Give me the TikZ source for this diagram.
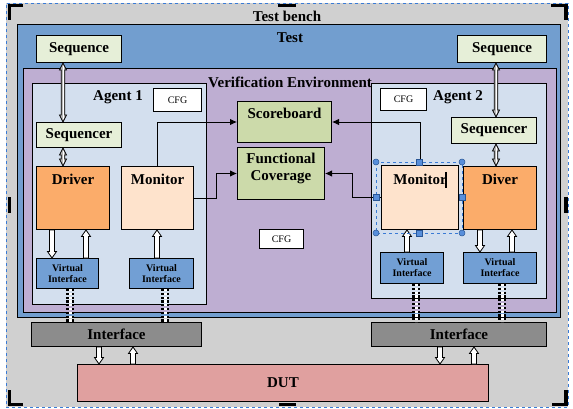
\documentclass[tikz,border=0pt]{standalone}
\usepackage{fontspec}
\setmainfont{Liberation Serif}
\usetikzlibrary{arrows.meta,calc}
\definecolor{bggray}{HTML}{D0D0D0}
\definecolor{testblue}{HTML}{729ECF}
\definecolor{verpurple}{HTML}{BEAED2}
\definecolor{agentblue}{HTML}{D3DFEE}
\definecolor{seqgreen}{HTML}{E6EFD8}
\definecolor{sbgreen}{HTML}{CCDAAA}
\definecolor{drvorange}{HTML}{FBAC6A}
\definecolor{monpeach}{HTML}{FEE3CC}
\definecolor{viblue}{HTML}{729FD4}
\definecolor{ifgray}{HTML}{8C8C8C}
\definecolor{dutpink}{HTML}{E0A09F}
\definecolor{selblue}{HTML}{3A7BD5}
\newcommand\labfont{\fontsize{15}{17}\selectfont\bfseries}
\newcommand\vifont{\fontsize{10}{11}\selectfont\bfseries}
\newcommand\cfgfont{\fontsize{10}{12}\selectfont}
% block arrow pointing down (head at #3)
\newcommand\downarr[3]{%
  \draw[blockarr] let \p1=(#2), \p2=(#3) in
    (#1pt-2.5pt,\y1) -- (#1pt-2.5pt,\y2+6.5pt) -- (#1pt-4.5pt,\y2+6.5pt) -- (#1pt,\y2)
    -- (#1pt+4.5pt,\y2+6.5pt) -- (#1pt+2.5pt,\y2+6.5pt) -- (#1pt+2.5pt,\y1) -- cycle;}
% block arrow pointing up (head at #3)
\newcommand\uparr[3]{%
  \draw[blockarr] let \p1=(#2), \p2=(#3) in
    (#1pt-2.5pt,\y1) -- (#1pt-2.5pt,\y2-6.5pt) -- (#1pt-4.5pt,\y2-6.5pt) -- (#1pt,\y2)
    -- (#1pt+4.5pt,\y2-6.5pt) -- (#1pt+2.5pt,\y2-6.5pt) -- (#1pt+2.5pt,\y1) -- cycle;}
% narrow double-headed arrow, #2 above #3
\newcommand\dblarr[3]{%
  \draw[dblarrow] let \p1=(#2), \p2=(#3) in
    (#1pt,\y1) -- (#1pt+3.5pt,\y1-7pt) -- (#1pt+1.8pt,\y1-7pt) -- (#1pt+1.8pt,\y2+7pt)
    -- (#1pt+3.5pt,\y2+7pt) -- (#1pt,\y2) -- (#1pt-3.5pt,\y2+7pt) -- (#1pt-1.8pt,\y2+7pt)
    -- (#1pt-1.8pt,\y1-7pt) -- (#1pt-3.5pt,\y1-7pt) -- cycle;
  \draw[white, line width=0.6pt] let \p1=(#2), \p2=(#3) in (#1pt,\y1-3pt) -- (#1pt,\y2+3pt);}
% dotted band connector
\newcommand\dotconn[3]{%
  \draw[dotband] let \p1=(#2), \p2=(#3) in (#1pt,\y1) -- (#1pt,\y2);}
\begin{document}
\begin{tikzpicture}[x=1pt,y=-1pt,
  box/.style={draw=black, line width=1pt, rectangle, inner sep=0pt, anchor=north west},
  blockarr/.style={draw=black, fill=white, line width=0.8pt, line join=miter},
  dblarrow/.style={draw=black, fill=gray!55, line width=0.7pt, line join=miter},
  dotband/.style={draw=black, double=white, double distance=3pt, line width=2.3pt, dash pattern=on 2.2pt off 1.6pt},
  conn/.style={draw=black, line width=0.9pt, -{Latex[length=7pt,width=6.5pt]}},
  title/.style={font=\labfont, inner sep=0pt},
  crop/.style={line width=3.5pt, black}]
\useasboundingbox (0,0) rectangle (573,409);
% test bench frame
\node[draw=selblue, dashed, line width=0.8pt, fill=bggray, rectangle, inner sep=0pt, anchor=north west,
  minimum width=562pt, minimum height=404pt] (tb) at (6,3) {};
\node[box, fill=testblue, minimum width=543pt, minimum height=293pt] (test) at (17,24) {};
\node[box, fill=verpurple, minimum width=533pt, minimum height=244pt] (ver) at (23,68) {};
\node[box, fill=agentblue, minimum width=174pt, minimum height=221pt] (ag1) at (32,83) {};
\node[box, fill=agentblue, minimum width=175pt, minimum height=215pt] (ag2) at (371,83) {};
% titles
\node[title] (tbt) at (287,16) {Test bench};
\node[title] (testt) at (290,38) {Test};
\node[title] (vert) at (290,82) {Verification Environment};
\node[title] (ag1t) at (118,97) {Agent 1};
\node[title] (ag2t) at (458,97) {Agent 2};
% boxes
\node[box, fill=seqgreen, minimum width=85pt, minimum height=27pt, font=\labfont] (seq1) at (36,35) {Sequence};
\node[box, fill=seqgreen, minimum width=89pt, minimum height=27pt, font=\labfont] (seq2) at (457,35) {Sequence};
\node[box, fill=seqgreen, minimum width=85pt, minimum height=25pt, font=\labfont] (sqr1) at (36,122) {Sequencer};
\node[box, fill=seqgreen, minimum width=85pt, minimum height=26pt, font=\labfont] (sqr2) at (451,117) {Sequencer};
\node[box, fill=white, minimum width=48pt, minimum height=23pt, font=\cfgfont] (cfg1) at (153,88) {CFG};
\node[box, fill=white, minimum width=46pt, minimum height=22pt, font=\cfgfont] (cfg2) at (380,88) {CFG};
\node[box, fill=white, minimum width=44pt, minimum height=19pt, font=\cfgfont] (cfg3) at (259,229) {CFG};
\node[box, fill=sbgreen, minimum width=94pt, minimum height=41pt,
  label={[font=\labfont, anchor=center, yshift=-12pt]north:Scoreboard}] (sb) at (237,101) {};
\node[box, fill=sbgreen, minimum width=87pt, minimum height=52pt,
  label={[font=\labfont, align=center, anchor=center, yshift=-21.5pt]north:Functional\\Coverage}] (fc) at (237,147) {};
\node[box, fill=drvorange, minimum width=73pt, minimum height=63pt,
  label={[font=\labfont, anchor=center, yshift=-13pt]north:Driver}] (drv) at (36,166) {};
\node[box, fill=monpeach, minimum width=72pt, minimum height=63pt,
  label={[font=\labfont, anchor=center, yshift=-13pt]north:Monitor}] (mon1) at (121,166) {};
\node[box, fill=monpeach, minimum width=77pt, minimum height=64pt,
  label={[font=\labfont, anchor=center, yshift=-14pt]north:Monitor}] (mon2) at (381,165) {};
\node[box, fill=drvorange, minimum width=73pt, minimum height=63pt,
  label={[font=\labfont, anchor=center, yshift=-13pt]north:Diver}] (div) at (463,166) {};
\node[box, fill=viblue, minimum width=62pt, minimum height=30pt, font=\vifont, align=center] (vi1) at (36,258) {Virtual\\Interface};
\node[box, fill=viblue, minimum width=64pt, minimum height=30pt, font=\vifont, align=center] (vi2) at (129,258) {Virtual\\Interface};
\node[box, fill=viblue, minimum width=63pt, minimum height=31pt, font=\vifont, align=center] (vi3) at (380,252) {Virtual\\Interface};
\node[box, fill=viblue, minimum width=73pt, minimum height=31pt, font=\vifont, align=center] (vi4) at (463,252) {Virtual\\Interface};
\node[box, fill=ifgray, minimum width=170pt, minimum height=24pt, font=\labfont] (if1) at (31,322) {Interface};
\node[box, fill=ifgray, minimum width=175pt, minimum height=24pt, font=\labfont] (if2) at (371,322) {Interface};
\node[box, fill=dutpink, minimum width=411pt, minimum height=37pt, font=\labfont] (dut) at (77,364) {DUT};
% monitor connectors
\draw[conn] (mon1.north) |- (sb.west);
\draw[conn] (mon1.east) -- ++(22,0) |- (fc.west);
\draw[conn] (mon2.north) |- (sb.east);
\draw[conn] (mon2.west) -- ++(-29,0) |- (fc.east);
% sequence arrows
\dblarr{63}{seq1.south}{sqr1.north}
\dblarr{63}{sqr1.south}{drv.north}
\dblarr{496}{seq2.south}{sqr2.north}
\dblarr{496}{sqr2.south}{div.north}
% block arrows
\downarr{52}{drv.south}{vi1.north}
\uparr{86}{vi1.north}{drv.south}
\uparr{157}{vi2.north}{mon1.south}
\uparr{407}{vi3.north}{mon2.south}
\downarr{480}{div.south}{vi4.north}
\uparr{512}{vi4.north}{div.south}
\downarr{99}{if1.south}{dut.north}
\uparr{133}{dut.north}{if1.south}
\downarr{440}{if2.south}{dut.north}
\uparr{474}{dut.north}{if2.south}
% dotted links
\dotconn{70}{vi1.south}{if1.north}
\dotconn{165}{vi2.south}{if1.north}
\dotconn{416}{vi3.south}{if2.north}
\dotconn{502}{vi4.south}{if2.north}
% selection handles around the second monitor
\draw[selblue, dashed, line width=0.7pt] (376,162) rectangle (462,233);
\foreach \p in {(376,162),(462,162),(376,233),(462,233)}
  \filldraw[fill=selblue!85, draw=selblue!70!black, line width=0.5pt] \p circle (3pt);
\foreach \p in {(419,162),(419,233),(376,197),(462,197)}
  \filldraw[fill=selblue!85, draw=selblue!70!black, line width=0.5pt] \p ++(-3,-3) rectangle ++(6,6);
\draw[black, line width=1.3pt] (446,172) -- (446,188);
% crop marks
\draw[crop] (23,5.5) -- (9.5,5.5) -- (9.5,20);
\draw[crop] (551,5.5) -- (566,5.5) -- (566,20);
\draw[crop] (9.5,390) -- (9.5,404.5) -- (23,404.5);
\draw[crop] (566,390) -- (566,404.5) -- (552,404.5);
\draw[crop] (278,5.5) -- (296,5.5);
\draw[crop] (279,404.5) -- (296,404.5);
\draw[crop] (9.5,197) -- (9.5,213);
\draw[crop] (566,197) -- (566,213);
\end{tikzpicture}
\end{document}
